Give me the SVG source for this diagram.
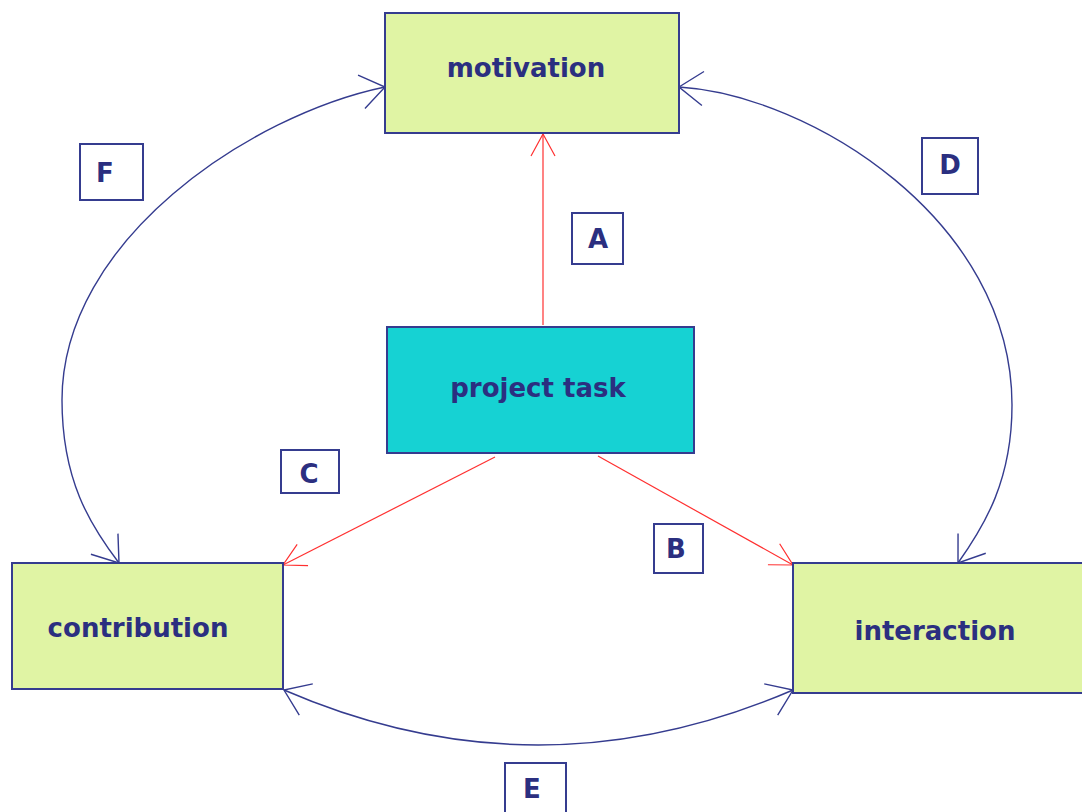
<svg xmlns="http://www.w3.org/2000/svg" width="1082" height="812" viewBox="0 0 1082 812">
<style>
.node{stroke:#353c8f;stroke-width:2}
.green{fill:#e0f4a4}
.cyan{fill:#16d2d3}
.lbl{fill:#fff;stroke:#353c8f;stroke-width:2}
text{font-family:"DejaVu Sans","Liberation Sans",sans-serif;font-weight:bold;fill:#2b2f80;text-anchor:middle}
.big{font-size:26px}
.small{font-size:26px}
.blue{fill:none;stroke:#353c8f;stroke-width:1.4}
.red{fill:none;stroke:#ff3030;stroke-width:1.2}
</style>
<defs>
<marker id="ab" markerUnits="userSpaceOnUse" markerWidth="40" markerHeight="40" viewBox="-30 -20 32 40" refX="0" refY="0" orient="auto-start-reverse">
<path d="M-24,-17 L0,0 L-24,17" fill="none" stroke="#353c8f" stroke-width="1.4"/>
</marker>
<marker id="ar" markerUnits="userSpaceOnUse" markerWidth="40" markerHeight="40" viewBox="-30 -20 32 40" refX="0" refY="0" orient="auto">
<path d="M-22,-12 L0,0 L-22,12" fill="none" stroke="#ff3030" stroke-width="1.2"/>
</marker>
</defs>
<rect width="1082" height="812" fill="#ffffff"/>
<g id="connectors">
<path class="blue" d="M385,87 C250,115 62,240 62,400 C62,480 90,525 119,563" marker-start="url(#ab)" marker-end="url(#ab)"/>
<path class="blue" d="M679,87 C810,95 1012,220 1012,405 C1012,480 985,525 958,563" marker-start="url(#ab)" marker-end="url(#ab)"/>
<path class="blue" d="M284,690 Q538,800 793,690" marker-start="url(#ab)" marker-end="url(#ab)"/>
<path class="red" d="M543,325 L543,134" marker-end="url(#ar)"/>
<path class="red" d="M495,457 L283,565" marker-end="url(#ar)"/>
<path class="red" d="M598,456 L793,565" marker-end="url(#ar)"/>
</g>
<g id="motivation">
<rect class="node green" x="385" y="13" width="294" height="120"/>
<text class="big" x="526" y="77">motivation</text>
</g>
<g id="project-task">
<rect class="node cyan" x="387" y="327" width="307" height="126"/>
<text class="big" x="538" y="397">project task</text>
</g>
<g id="contribution">
<rect class="node green" x="12" y="563" width="271" height="126"/>
<text class="big" x="138" y="637">contribution</text>
</g>
<g id="interaction">
<rect class="node green" x="793" y="563" width="300" height="130"/>
<text class="big" x="935" y="640">interaction</text>
</g>
<g id="label-A">
<rect class="lbl" x="572" y="213" width="51" height="51"/>
<text class="small" x="598" y="248">A</text>
</g>
<g id="label-B">
<rect class="lbl" x="654" y="524" width="49" height="49"/>
<text class="small" x="676" y="558">B</text>
</g>
<g id="label-C">
<rect class="lbl" x="281" y="450" width="58" height="43"/>
<text class="small" x="309" y="483">C</text>
</g>
<g id="label-D">
<rect class="lbl" x="922" y="138" width="56" height="56"/>
<text class="small" x="950" y="174">D</text>
</g>
<g id="label-E">
<rect class="lbl" x="505" y="763" width="61" height="60"/>
<text class="small" x="532" y="798">E</text>
</g>
<g id="label-F">
<rect class="lbl" x="80" y="144" width="63" height="56"/>
<text class="small" x="105" y="182">F</text>
</g>
</svg>
